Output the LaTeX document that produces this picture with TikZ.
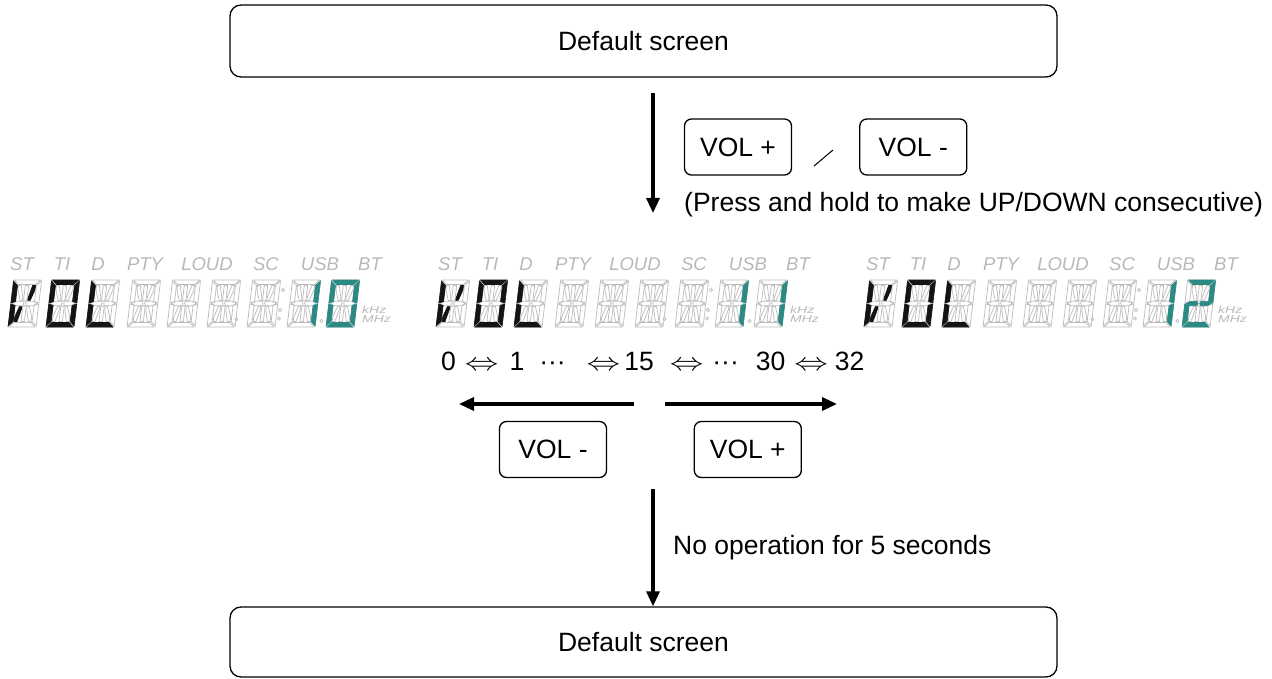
\documentclass[tikz,border=0pt]{standalone}
\usepackage{fontspec}
\setmainfont{Liberation Sans}
\usetikzlibrary{arrows.meta,positioning}
\definecolor{ink}{HTML}{141414}
\definecolor{lcd}{HTML}{2C8A84}
\definecolor{ghost}{HTML}{BEBEBE}

% one 14-segment cell, y up, 28 x 47
\newcommand\vfdsega[1]{\path[#1] (1,47) -- (27,47) -- (22.5,42.5) -- (5.5,42.5) -- cycle;}
\newcommand\vfdsegb[1]{\path[#1] (28,46) -- (23.5,41.5) -- (23.5,25.5) -- (28,24) -- cycle;}
\newcommand\vfdsegc[1]{\path[#1] (28,1) -- (23.5,5.5) -- (23.5,21.5) -- (28,23) -- cycle;}
\newcommand\vfdsegd[1]{\path[#1] (1,0) -- (27,0) -- (22.5,4.5) -- (5.5,4.5) -- cycle;}
\newcommand\vfdsege[1]{\path[#1] (0,1) -- (4.5,5.5) -- (4.5,21.5) -- (0,23) -- cycle;}
\newcommand\vfdsegf[1]{\path[#1] (0,46) -- (4.5,41.5) -- (4.5,25.5) -- (0,24) -- cycle;}
\newcommand\vfdsegga[1]{\path[#1] (1.5,23.5) -- (5.5,25.7) -- (12,25.7) -- (13.2,23.5) -- (12,21.3) -- (5.5,21.3) -- cycle;}
\newcommand\vfdseggb[1]{\path[#1] (26.5,23.5) -- (22.5,25.7) -- (16,25.7) -- (14.8,23.5) -- (16,21.3) -- (22.5,21.3) -- cycle;}
\newcommand\vfdsegh[1]{\path[#1] (5.5,41.5) -- (8.3,41.5) -- (11.4,29) -- (11.4,26.6) -- (9,26.6) -- (5.5,37) -- cycle;}
\newcommand\vfdsegi[1]{\path[#1] (12.3,41.5) -- (15.7,41.5) -- (15.7,27) -- (14,25.6) -- (12.3,27) -- cycle;}
\newcommand\vfdsegj[1]{\path[#1] (22.5,41.5) -- (19.7,41.5) -- (16.6,29) -- (16.6,26.6) -- (19,26.6) -- (22.5,37) -- cycle;}
\newcommand\vfdsegk[1]{\path[#1] (5.5,5.5) -- (8.3,5.5) -- (11.4,18) -- (11.4,20.4) -- (9,20.4) -- (5.5,10) -- cycle;}
\newcommand\vfdsegl[1]{\path[#1] (12.3,5.5) -- (15.7,5.5) -- (15.7,20) -- (14,21.4) -- (12.3,20) -- cycle;}
\newcommand\vfdsegm[1]{\path[#1] (22.5,5.5) -- (19.7,5.5) -- (16.6,18) -- (16.6,20.4) -- (19,20.4) -- (22.5,10) -- cycle;}

\newcommand\vfdcell[2]{%
  \begin{scope}[shift={(#1,#2)},x=1pt,y=1pt,xslant=0.12]
    \foreach \s in {a,b,c,d,e,f,ga,gb,h,i,j,k,l,m}{\csname vfdseg\s\endcsname{segoff}}
  \end{scope}}
\newcommand\vfdlit[4]{%
  \begin{scope}[shift={(#1,#2)},x=1pt,y=1pt,xslant=0.12]
    \foreach \s in {#3}{\csname vfdseg\s\endcsname{segon=#4}}
  \end{scope}}

% display: left edge, lit segments of the two volume digits, prefix
\newcommand\vfdpanel[4]{%
  \foreach \dx in {0,38,78,119,159,199,239,279,318}{\vfdcell{#1+\dx}{327}}
  \foreach \dx/\dy in {228.5/319,275/290,272/310,271/318.5,313.5/321}{\draw[segoff] (#1+\dx,\dy) circle (1.7pt);}
  \vfdlit{#1}{327}{f,e,j,k}{ink}
  \vfdlit{#1+38}{327}{a,b,c,d,e,f}{ink}
  \vfdlit{#1+78}{327}{f,e,d}{ink}
  \vfdlit{#1+279}{327}{#2}{lcd}
  \vfdlit{#1+318}{327}{#3}{lcd}
  \foreach \lx/\lab in {14/ST,54/TI,90/D,137/PTY,199/LOUD,258/SC,312/USB,362/BT}
    {\node[flag] (#4-\lab) at (#1+\lx,264) {\lab};}
  \node[unit] (#4-khz) at (#1+354,309.5) {\scalebox{1.4}[1]{kHz}};
  \node[unit] (#4-mhz) at (#1+354,319.5) {\scalebox{1.4}[1]{MHz}};
}

\newcommand\lr{\scalebox{1.35}[1]{$\Leftrightarrow$}}

\begin{document}
\begin{tikzpicture}[x=1pt,y=-1pt,font=\fontsize{26.5}{31}\selectfont,
  panelbox/.style={draw,rounded corners=11pt,line width=1.3pt,minimum width=827pt,minimum height=72pt},
  keybox/.style={draw,rounded corners=7pt,line width=1.3pt,minimum width=107pt,minimum height=56pt},
  arr/.style={line width=3.2pt,-{Triangle[length=15pt,width=13pt]}},
  segoff/.style={draw=ghost,line width=0.75pt},
  segon/.style={fill=#1,draw=#1,line width=0.6pt},
  flag/.style={text=black!28,inner sep=0pt,font=\fontsize{18.5}{18}\selectfont\itshape},
  unit/.style={text=black!28,inner sep=0pt,anchor=west,font=\fontsize{10}{9}\selectfont\itshape}]
  \useasboundingbox (0,0) rectangle (1272,679);

  \node[panelbox] (top) at (643.5,41) {Default screen};
  \coordinate (s1) at (653,93);
  \coordinate (e1) at (653,213);
  \draw[arr] (s1) -- (e1);
  \node[keybox] (up1) at (738,147) {VOL +};
  \node[keybox,right=67pt of up1] (dn1) {VOL -};
  \draw[line width=1pt] (814,166) -- (833,150);
  \node[anchor=west,inner sep=0pt] (hold) at (684,205) {(Press and hold to make UP/DOWN consecutive)};

  \vfdpanel{8}{b,c}{a,b,c,d,e,f}{p10}
  \vfdpanel{436}{b,c}{b,c}{p11}
  \vfdpanel{864}{b,c}{a,b,ga,gb,e,d}{p12}

  \node[anchor=base west,inner sep=0pt] (steps) at (441,370)
    {0\hspace{9pt}\lr\hspace{11pt}1\hspace{15pt}···\hspace{21pt}\lr\hspace{4pt}15\hspace{16pt}\lr\hspace{9pt}···\hspace{17pt}30\hspace{9pt}\lr\hspace{7pt}32};
  \coordinate (lA) at (634,404);
  \coordinate (lB) at (459,404);
  \coordinate (rA) at (665,404);
  \coordinate (rB) at (837,404);
  \draw[arr] (lA) -- (lB);
  \draw[arr] (rA) -- (rB);
  \node[keybox] (dn2) at (553,449.5) {VOL -};
  \node[keybox,right=86.5pt of dn2] (up2) {VOL +};

  \node[panelbox,minimum height=70pt] (bot) at (643.5,642) {Default screen};
  \coordinate (s2) at (653,489);
  \draw[arr] (s2) -- (s2 |- bot.north);
  \node[anchor=west,inner sep=0pt] (idle) at (673,548) {No operation for 5 seconds};
\end{tikzpicture}
\end{document}
